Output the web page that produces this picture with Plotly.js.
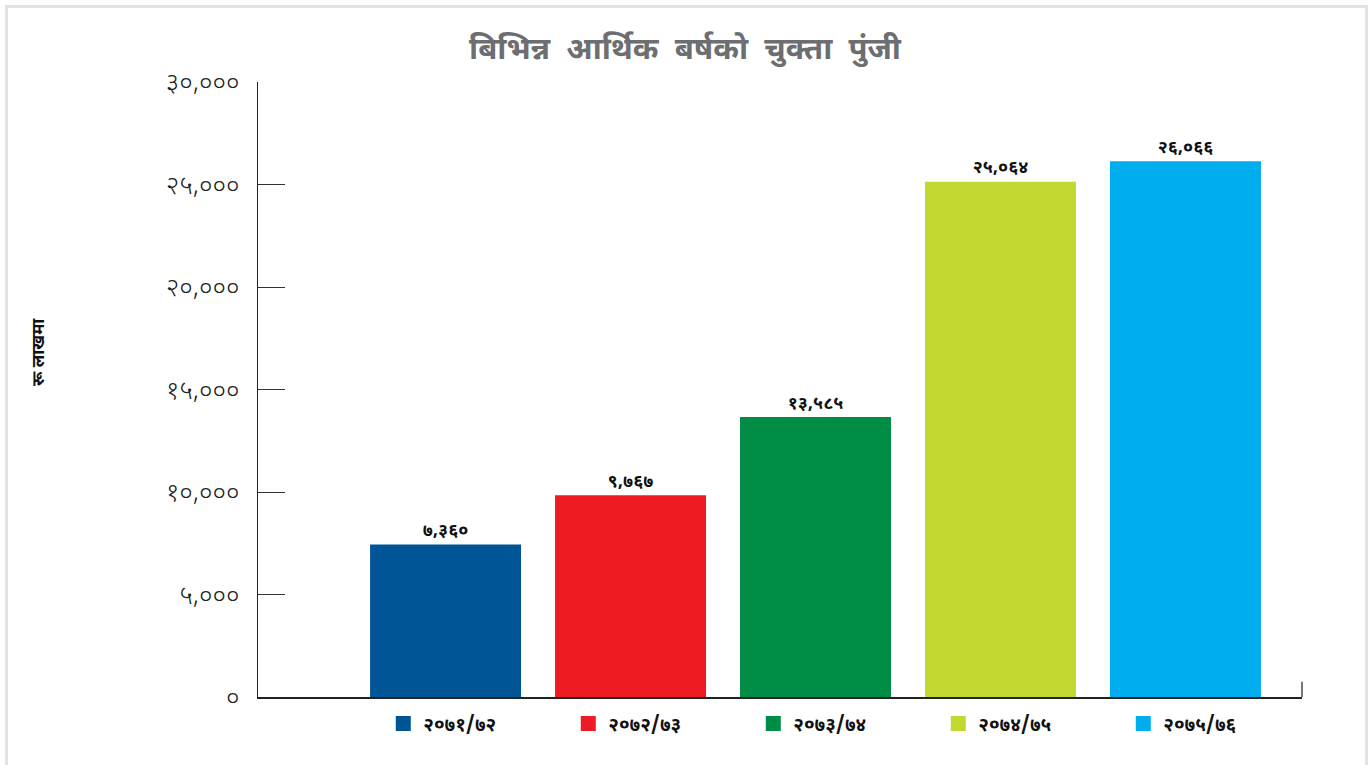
<!DOCTYPE html>
<html>
<head>
<meta charset="utf-8">
<script src="https://cdn.plot.ly/plotly-3.0.1.min.js"></script>
<style>
  html, body { margin: 0; padding: 0; background: #ffffff; }
  #chart { position: absolute; left: 0; top: 0; width: 1370px; height: 765px; }
  #frame { position: absolute; left: 5px; top: 5px; width: 1363px; height: 770px;
           box-sizing: border-box; border: 3px solid #e2e2e2; pointer-events: none; }
</style>
</head>
<body>
<div id="chart"></div>
<div id="frame"></div>
<script>
// Fiscal years (legend / categories)
const years = ['२०७१/७२', '२०७२/७३', '२०७३/७४', '२०७४/७५', '२०७५/७६'];
// Paid-up capital (Rs. lakh)
const capital = [7360, 9767, 13585, 25064, 26066];
// Value labels as printed on the bars
const capitalLabels = ['७,३६०', '९,७६७', '१३,५८५', '२५,०६४', '२६,०६६'];
const barColors = ['#005596', '#ed1c24', '#008c44', '#c2d831', '#00aeef'];
// Y axis ticks
const yTickVals = [0, 5000, 10000, 15000, 20000, 25000, 30000];
const yTickText = ['०', '५,०००', '१०,०००', '१५,०००', '२०,०००', '२५,०००', '३०,०००'];

const devFont = '"Noto Sans Devanagari", "Noto Sans", "Lohit Devanagari", sans-serif';
const NB = '\u00a0\u00a0';

const traces = years.map((yr, i) => ({
  type: 'bar',
  name: yr,
  x: [yr],
  y: [capital[i]],
  text: [capitalLabels[i]],
  texttemplate: '%{text}',
  textposition: 'outside',
  cliponaxis: false,
  textfont: { family: devFont, size: 18, color: '#111111', weight: 'bold' },
  marker: { color: barColors[i], line: { color: barColors[i], width: 3 } },
  width: 0.8,
  hoverinfo: 'x+y'
}));

const layout = {
  width: 1370,
  height: 765,
  paper_bgcolor: 'rgba(0,0,0,0)',
  plot_bgcolor: 'rgba(0,0,0,0)',
  margin: { l: 258, r: 68, t: 82, b: 68, autoexpand: false },
  barmode: 'overlay',
  showlegend: true,
  title: {
    text: 'बिभिन्न' + NB + 'आर्थिक' + NB + 'बर्षको' + NB + 'चुक्ता' + NB + 'पुंजी',
    x: 0.5, xanchor: 'center', xref: 'container',
    y: 0.937, yanchor: 'middle',
    font: { family: devFont, size: 31, color: '#6d6e71', weight: 'bold' }
  },
  xaxis: {
    type: 'category',
    categoryorder: 'array',
    categoryarray: years,
    range: [-1.014, 4.63],
    showticklabels: false,
    ticks: '',
    showgrid: false,
    zeroline: false,
    showline: true,
    linecolor: '#222222',
    linewidth: 1.5
  },
  yaxis: {
    range: [0, 30000],
    tickmode: 'array',
    tickvals: yTickVals,
    ticktext: yTickText,
    ticks: 'inside',
    ticklen: 27,
    tickcolor: '#333333',
    tickwidth: 1,
    ticklabelstandoff: 12,
    tickfont: { family: devFont, size: 26, color: '#222222', weight: 300 },
    showgrid: false,
    zeroline: false,
    showline: true,
    linecolor: '#222222',
    linewidth: 1.2
  },
  annotations: [{
    text: 'रू लाखमा',
    xref: 'paper', yref: 'paper',
    x: -0.2088, y: 0.561,
    xanchor: 'center', yanchor: 'middle',
    textangle: -90,
    showarrow: false,
    font: { family: devFont, size: 17, color: '#111111', weight: 'bold' }
  }],
  legend: {
    orientation: 'h',
    x: 0.12, xanchor: 'left',
    y: -0.0125, yanchor: 'top',
    entrywidth: 140,
    entrywidthmode: 'pixels',
    font: { family: devFont, size: 19, color: '#111111', weight: 'bold' },
    traceorder: 'normal'
  },
  shapes: [{
    type: 'line', xref: 'paper', yref: 'paper',
    x0: 1, x1: 1, y0: 0, y1: 0.025,
    line: { color: '#777777', width: 2 }
  }]
};

Plotly.newPlot('chart', traces, layout, { displayModeBar: false, staticPlot: true });
</script>
</body>
</html>
